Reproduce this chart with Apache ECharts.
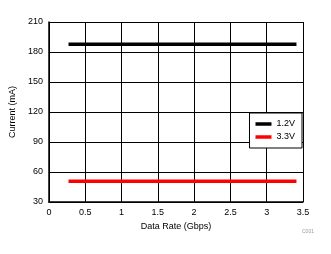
<!DOCTYPE html>
<html><head><meta charset="utf-8">
<script src="https://cdn.jsdelivr.net/npm/echarts@6/dist/echarts.min.js"></script>
<style>html,body{margin:0;padding:0;background:#fff}#c{width:331px;height:254px}</style>
</head><body><div id="c"></div>
<script>
const seriesNames = ['1.2V', '3.3V'];
const dataRate = [0.27, 3.41];
const current12 = [187.7, 187.7];
const current33 = [50.7, 50.7];
const colors = ['#000000', '#ff0000'];

const chart = echarts.init(document.getElementById('c'), null, {renderer: 'canvas'});
const font = 'Liberation Sans, Arial, sans-serif';
chart.setOption({
  animation: false,
  grid: {left: 47, right: 28, top: 22, bottom: 52},
  xAxis: {
    type: 'value', min: 0, max: 3.5, interval: 0.5,
    name: 'Data Rate (Gbps)', nameLocation: 'middle', nameGap: 17,
    nameTextStyle: {fontFamily: font, fontSize: 9, color: '#000'},
    axisLine: {show: true, lineStyle: {color: '#000', width: 1.5}},
    axisTick: {show: false},
    axisLabel: {fontFamily: font, fontSize: 9, color: '#000', margin: 6},
    splitLine: {show: true, lineStyle: {color: '#000', width: 1}}
  },
  yAxis: {
    type: 'value', min: 30, max: 210, interval: 30,
    name: 'Current (mA)', nameLocation: 'middle', nameGap: 27,
    nameTextStyle: {fontFamily: font, fontSize: 9, color: '#000'},
    axisLine: {show: true, lineStyle: {color: '#000', width: 1.5}},
    axisTick: {show: false},
    axisLabel: {fontFamily: font, fontSize: 9, color: '#000', margin: 6},
    splitLine: {show: true, lineStyle: {color: '#000', width: 1}}
  },
  legend: {
    right: 29, top: 113, orient: 'vertical',
    backgroundColor: '#fff', borderColor: '#000', borderWidth: 1,
    padding: [6, 7, 6, 6], itemGap: 3,
    itemWidth: 16, itemHeight: 3.5,
    textStyle: {fontFamily: font, fontSize: 9, color: '#000', lineHeight: 10},
    data: seriesNames.map((n, i) => ({name: n, icon: 'rect', itemStyle: {color: colors[i]}}))
  },
  graphic: [{
    type: 'text', left: 302, top: 229,
    style: {text: 'C001', fontSize: 5, fill: '#999', fontFamily: font}
  }],
  series: [
    {name: seriesNames[0], type: 'line', data: dataRate.map((x, i) => [x, current12[i]]), showSymbol: false, lineStyle: {color: colors[0], width: 3.5}, itemStyle: {color: colors[0]}},
    {name: seriesNames[1], type: 'line', data: dataRate.map((x, i) => [x, current33[i]]), showSymbol: false, lineStyle: {color: colors[1], width: 3.5}, itemStyle: {color: colors[1]}}
  ]
});
</script></body></html>
